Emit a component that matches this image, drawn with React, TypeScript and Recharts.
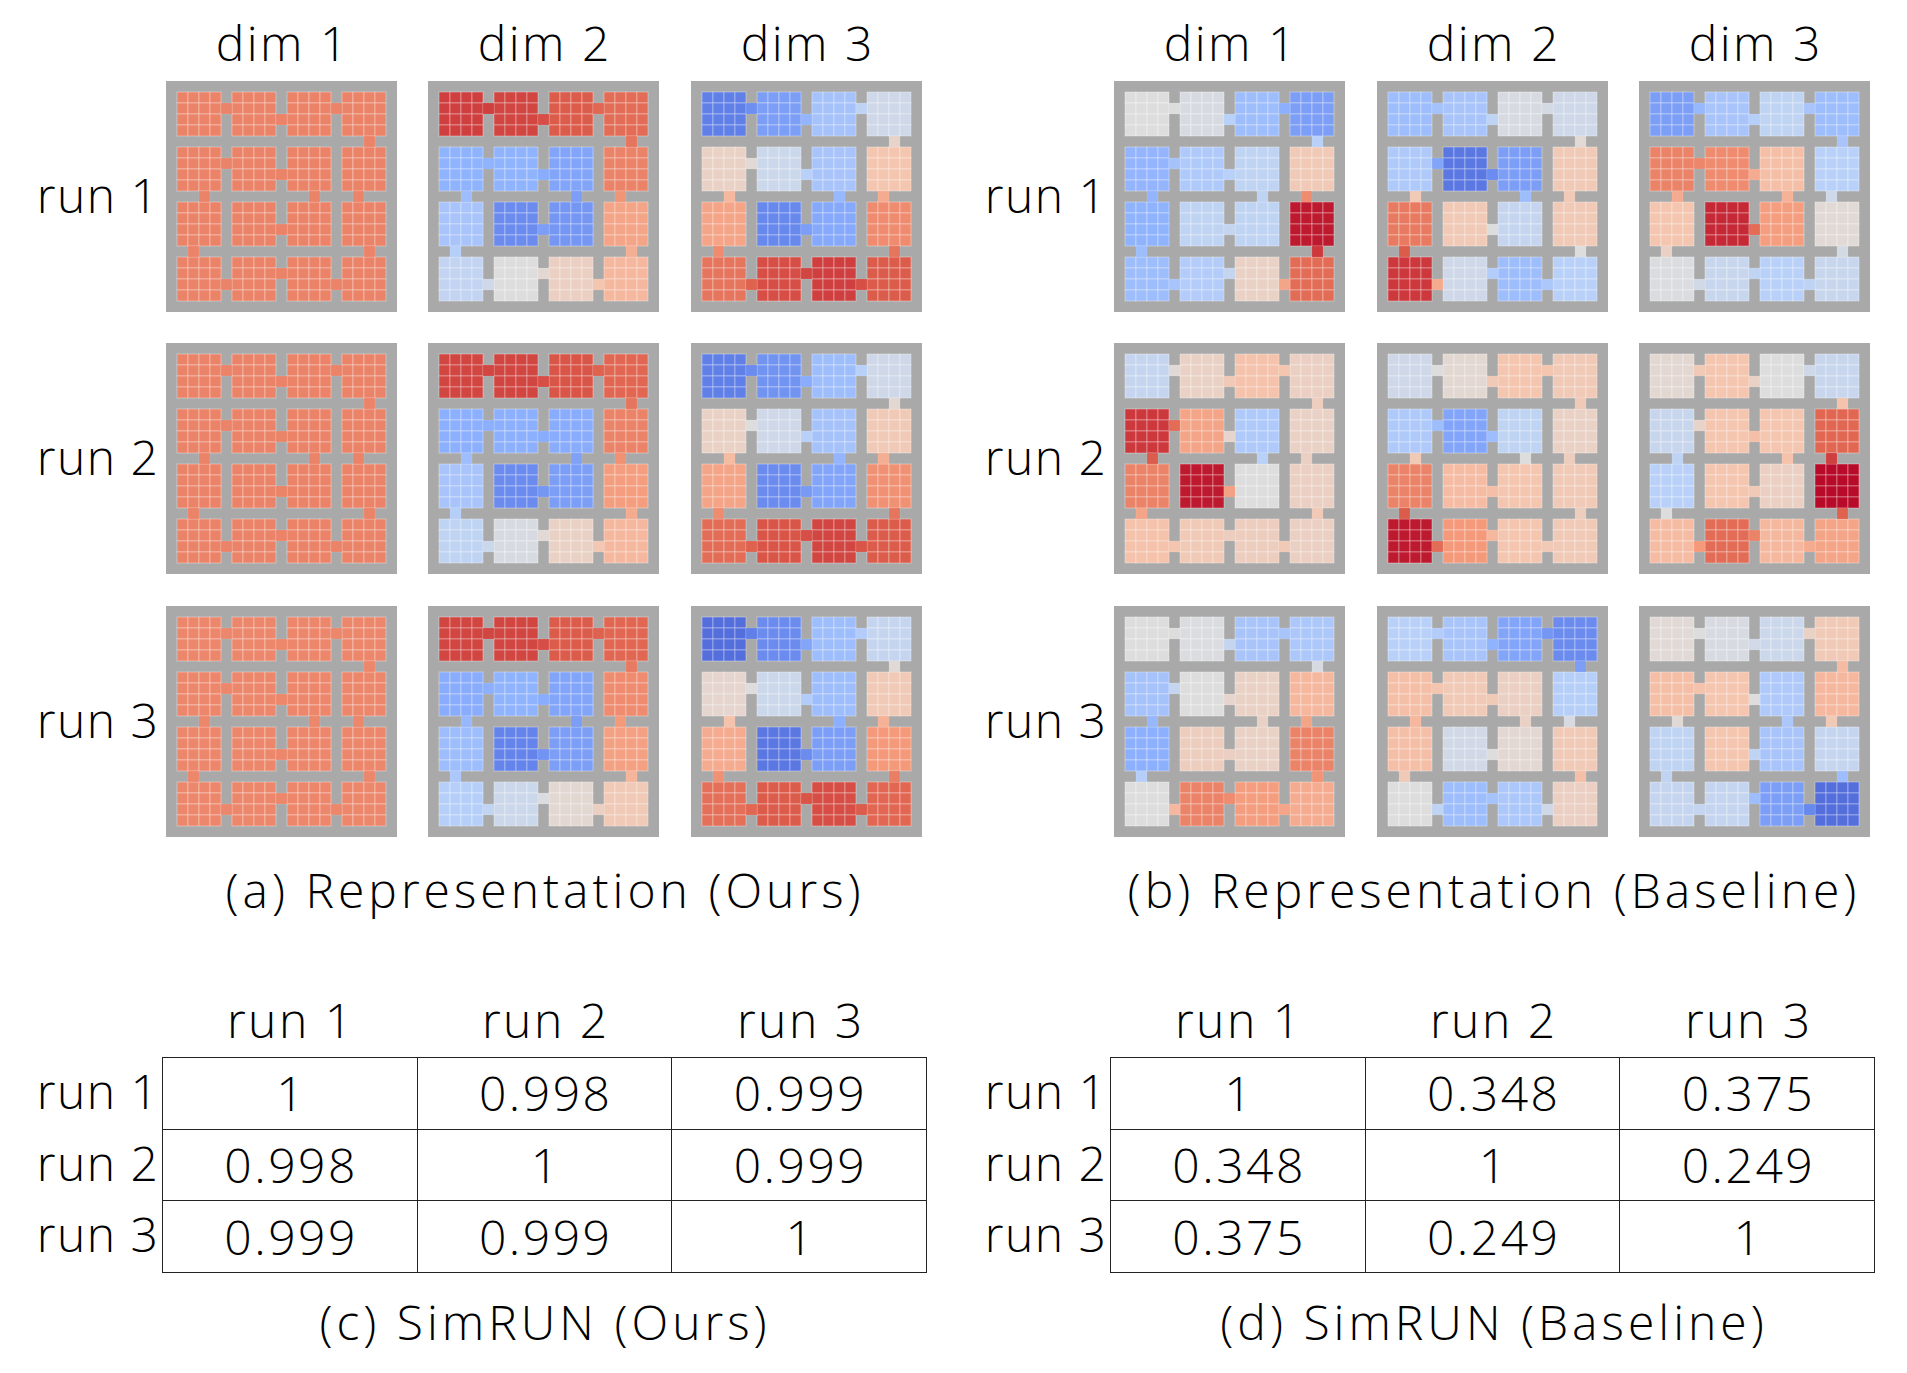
import React from 'react';
import { ScatterChart, Scatter, XAxis, YAxis } from 'recharts';

// 21x21 grid: 4x4 rooms of 4x4 cells, 1-cell walls, doors in the walls
const GRID = 21;
const PANEL = 231;
const CELL = PANEL / GRID;
const FONT = '"Open Sans", Lato, sans-serif';

const dims = ['dim 1', 'dim 2', 'dim 3'];
const runs = ['run 1', 'run 2', 'run 3'];

// doors: [roomRow, roomCol, offset inside the room side]
const hDoors = [[0, 0, 1], [0, 1, 2], [0, 2, 1], [1, 0, 1], [1, 1, 2], [2, 1, 2], [3, 0, 2], [3, 1, 1], [3, 2, 2]];
const vDoors = [[0, 3, 2], [1, 0, 2], [1, 2, 2], [1, 3, 1], [2, 0, 1], [2, 3, 2]];

// room values (row-major, 4x4), coolwarm position 0..1
const oursR1D1 = [0.8, 0.8, 0.8, 0.8, 0.8, 0.8, 0.8, 0.8, 0.8, 0.8, 0.8, 0.8, 0.8, 0.8, 0.8, 0.8];
const oursR1D1Doors = [0.8, 0.8, 0.8, 0.8, 0.8, 0.8, 0.8, 0.8, 0.8, 0.8, 0.8, 0.8, 0.8, 0.8, 0.8];
const oursR1D2 = [0.92, 0.91, 0.88, 0.85, 0.26, 0.26, 0.22, 0.8, 0.33, 0.15, 0.18, 0.72, 0.41, 0.5, 0.57, 0.66];
const oursR1D2Doors = [0.92, 0.9, 0.86, 0.26, 0.24, 0.2, 0.45, 0.53, 0.62, 0.83, 0.3, 0.2, 0.76, 0.37, 0.69];
const oursR1D3 = [0.12, 0.2, 0.32, 0.45, 0.56, 0.44, 0.33, 0.62, 0.72, 0.14, 0.23, 0.78, 0.83, 0.9, 0.92, 0.88];
const oursR1D3Doors = [0.16, 0.27, 0.4, 0.52, 0.38, 0.2, 0.87, 0.91, 0.9, 0.55, 0.66, 0.28, 0.7, 0.78, 0.83];

const oursR2D1 = [0.8, 0.8, 0.8, 0.8, 0.8, 0.8, 0.8, 0.8, 0.8, 0.8, 0.8, 0.8, 0.8, 0.8, 0.8, 0.8];
const oursR2D1Doors = [0.8, 0.8, 0.8, 0.8, 0.8, 0.8, 0.8, 0.8, 0.8, 0.8, 0.8, 0.8, 0.8, 0.8, 0.8];
const oursR2D2 = [0.91, 0.91, 0.89, 0.86, 0.25, 0.25, 0.24, 0.8, 0.33, 0.15, 0.2, 0.74, 0.4, 0.48, 0.56, 0.66];
const oursR2D2Doors = [0.91, 0.9, 0.87, 0.25, 0.24, 0.18, 0.44, 0.52, 0.61, 0.83, 0.3, 0.21, 0.77, 0.37, 0.7];
const oursR2D3 = [0.12, 0.17, 0.3, 0.45, 0.56, 0.45, 0.32, 0.6, 0.72, 0.15, 0.22, 0.77, 0.85, 0.89, 0.91, 0.88];
const oursR2D3Doors = [0.15, 0.24, 0.38, 0.5, 0.38, 0.19, 0.87, 0.9, 0.89, 0.53, 0.65, 0.27, 0.69, 0.78, 0.83];

const oursR3D1 = [0.79, 0.79, 0.79, 0.79, 0.79, 0.79, 0.79, 0.79, 0.79, 0.79, 0.79, 0.79, 0.79, 0.79, 0.79, 0.79];
const oursR3D1Doors = [0.79, 0.79, 0.79, 0.79, 0.79, 0.79, 0.79, 0.79, 0.79, 0.79, 0.79, 0.79, 0.79, 0.79, 0.79];
const oursR3D2 = [0.91, 0.91, 0.88, 0.86, 0.24, 0.26, 0.22, 0.78, 0.3, 0.13, 0.2, 0.73, 0.37, 0.44, 0.53, 0.6];
const oursR3D2Doors = [0.91, 0.9, 0.87, 0.25, 0.24, 0.17, 0.41, 0.49, 0.57, 0.82, 0.28, 0.2, 0.75, 0.34, 0.67];
const oursR3D3 = [0.08, 0.15, 0.3, 0.42, 0.54, 0.44, 0.3, 0.6, 0.7, 0.1, 0.2, 0.75, 0.84, 0.88, 0.9, 0.86];
const oursR3D3Doors = [0.12, 0.22, 0.36, 0.5, 0.36, 0.15, 0.86, 0.89, 0.88, 0.52, 0.63, 0.25, 0.68, 0.77, 0.81];

const baseR1D1 = [0.5, 0.48, 0.3, 0.2, 0.27, 0.35, 0.4, 0.6, 0.26, 0.4, 0.4, 0.97, 0.3, 0.36, 0.56, 0.85];
const baseR1D1Doors = [0.5, 0.38, 0.25, 0.32, 0.38, 0.42, 0.33, 0.42, 0.72, 0.38, 0.27, 0.4, 0.78, 0.3, 0.93];
const baseR1D2 = [0.3, 0.33, 0.48, 0.45, 0.35, 0.1, 0.2, 0.6, 0.82, 0.6, 0.42, 0.6, 0.93, 0.45, 0.3, 0.38];
const baseR1D2Doors = [0.32, 0.4, 0.47, 0.22, 0.15, 0.5, 0.7, 0.36, 0.34, 0.52, 0.6, 0.3, 0.6, 0.88, 0.5];
const baseR1D3 = [0.2, 0.33, 0.4, 0.3, 0.8, 0.78, 0.64, 0.38, 0.62, 0.95, 0.74, 0.52, 0.49, 0.43, 0.38, 0.43];
const baseR1D3Doors = [0.28, 0.37, 0.33, 0.79, 0.7, 0.85, 0.46, 0.4, 0.4, 0.33, 0.7, 0.68, 0.45, 0.56, 0.47];

const baseR2D1 = [0.42, 0.56, 0.63, 0.57, 0.93, 0.72, 0.35, 0.56, 0.8, 0.97, 0.5, 0.57, 0.63, 0.6, 0.58, 0.57];
const baseR2D1Doors = [0.52, 0.6, 0.62, 0.85, 0.54, 0.73, 0.62, 0.58, 0.6, 0.58, 0.88, 0.38, 0.57, 0.72, 0.6];
const baseR2D2 = [0.45, 0.53, 0.62, 0.6, 0.35, 0.22, 0.4, 0.56, 0.8, 0.65, 0.62, 0.6, 0.97, 0.75, 0.62, 0.6];
const baseR2D2Doors = [0.5, 0.6, 0.62, 0.3, 0.3, 0.64, 0.85, 0.66, 0.6, 0.6, 0.6, 0.5, 0.58, 0.88, 0.58];
const baseR2D3 = [0.53, 0.62, 0.5, 0.43, 0.43, 0.62, 0.62, 0.86, 0.38, 0.62, 0.57, 0.99, 0.65, 0.85, 0.66, 0.72];
const baseR2D3Doors = [0.6, 0.56, 0.45, 0.55, 0.64, 0.6, 0.75, 0.8, 0.7, 0.63, 0.4, 0.63, 0.92, 0.5, 0.87];

const baseR3D1 = [0.5, 0.49, 0.33, 0.34, 0.32, 0.5, 0.56, 0.66, 0.25, 0.58, 0.56, 0.8, 0.5, 0.8, 0.74, 0.7];
const baseR3D1Doors = [0.5, 0.42, 0.33, 0.42, 0.54, 0.57, 0.66, 0.78, 0.72, 0.48, 0.28, 0.56, 0.72, 0.37, 0.76];
const baseR3D2 = [0.38, 0.33, 0.22, 0.15, 0.64, 0.6, 0.57, 0.37, 0.64, 0.46, 0.53, 0.6, 0.5, 0.3, 0.34, 0.57];
const baseR3D2Doors = [0.36, 0.26, 0.18, 0.62, 0.6, 0.5, 0.4, 0.32, 0.45, 0.2, 0.66, 0.56, 0.48, 0.6, 0.64];
const baseR3D3 = [0.52, 0.48, 0.44, 0.6, 0.64, 0.62, 0.35, 0.66, 0.4, 0.62, 0.33, 0.42, 0.42, 0.42, 0.2, 0.08];
const baseR3D3Doors = [0.5, 0.46, 0.56, 0.63, 0.5, 0.4, 0.42, 0.3, 0.14, 0.65, 0.52, 0.34, 0.6, 0.4, 0.3];

const oursRooms = [[oursR1D1, oursR1D2, oursR1D3], [oursR2D1, oursR2D2, oursR2D3], [oursR3D1, oursR3D2, oursR3D3]];
const oursDoors = [[oursR1D1Doors, oursR1D2Doors, oursR1D3Doors], [oursR2D1Doors, oursR2D2Doors, oursR2D3Doors], [oursR3D1Doors, oursR3D2Doors, oursR3D3Doors]];
const baseRooms = [[baseR1D1, baseR1D2, baseR1D3], [baseR2D1, baseR2D2, baseR2D3], [baseR3D1, baseR3D2, baseR3D3]];
const baseDoors = [[baseR1D1Doors, baseR1D2Doors, baseR1D3Doors], [baseR2D1Doors, baseR2D2Doors, baseR2D3Doors], [baseR3D1Doors, baseR3D2Doors, baseR3D3Doors]];

// SimRUN tables
const simOurs = [['1', '0.998', '0.999'], ['0.998', '1', '0.999'], ['0.999', '0.999', '1']];
const simBase = [['1', '0.348', '0.375'], ['0.348', '1', '0.249'], ['0.375', '0.249', '1']];

// matplotlib coolwarm anchors
const COOLWARM = [
  [59, 76, 192], [98, 130, 234], [141, 176, 254], [184, 208, 249], [221, 221, 221],
  [245, 196, 173], [244, 154, 123], [222, 96, 77], [180, 4, 38],
];

const coolwarm = (v: number) => {
  const t = Math.max(0, Math.min(1, v)) * (COOLWARM.length - 1);
  const i = Math.min(Math.floor(t), COOLWARM.length - 2);
  const f = t - i;
  const a = COOLWARM[i], b = COOLWARM[i + 1];
  const c = a.map((x, k) => Math.round(x + (b[k] - x) * f));
  return `rgb(${c[0]},${c[1]},${c[2]})`;
};

const buildCells = (rooms: number[], doors: number[]) => {
  const cells: { x: number; y: number; v: number; door: boolean }[] = [];
  rooms.forEach((v, idx) => {
    const r = Math.floor(idx / 4), c = idx % 4;
    for (let i = 0; i < 4; i++)
      for (let j = 0; j < 4; j++)
        cells.push({ x: 1 + 5 * c + j + 0.5, y: 1 + 5 * r + i + 0.5, v, door: false });
  });
  hDoors.forEach(([r, c, o], k) => {
    cells.push({ x: 5 * c + 5 + 0.5, y: 1 + 5 * r + o + 0.5, v: doors[k], door: true });
  });
  vDoors.forEach(([r, c, o], k) => {
    cells.push({ x: 1 + 5 * c + o + 0.5, y: 5 * r + 5 + 0.5, v: doors[hDoors.length + k], door: true });
  });
  return cells;
};

const CellShape = (props: any) => {
  const { cx, cy, payload } = props;
  return (
    <rect
      x={cx - CELL / 2}
      y={cy - CELL / 2}
      width={CELL}
      height={CELL}
      fill={coolwarm(payload.v)}
      stroke="#ffffff"
      strokeOpacity={payload.door ? 0.1 : 0.35}
      strokeWidth={1}
    />
  );
};

const Panel = ({ rooms, doors, left, top }: any) => (
  <div style={{ position: 'absolute', left, top, width: PANEL, height: PANEL, background: '#a9a9a9' }}>
    <ScatterChart width={PANEL} height={PANEL} margin={{ top: 0, right: 0, bottom: 0, left: 0 }}>
      <XAxis type="number" dataKey="x" domain={[0, GRID]} hide />
      <YAxis type="number" dataKey="y" domain={[0, GRID]} reversed hide />
      <Scatter data={buildCells(rooms, doors)} shape={CellShape} isAnimationActive={false} />
    </ScatterChart>
  </div>
);

const Label = ({ x, y, text, align = 'center', size = 48, spacing = 2.5 }: any) => {
  const tx = align === 'center' ? '-50%' : align === 'right' ? '-100%' : '0';
  const shift = align === 'right' ? spacing : align === 'center' ? spacing / 2 : 0;
  return (
    <div
      style={{
        position: 'absolute', left: x + shift, top: y, transform: `translate(${tx}, -50%)`,
        fontFamily: FONT, fontWeight: 300, fontSize: size, lineHeight: 1, whiteSpace: 'nowrap', color: '#000',
        letterSpacing: spacing,
      }}
    >
      {text}
    </div>
  );
};

const panelX = [[166, 428, 691], [1114, 1377, 1639]];
const panelY = [81, 343, 606];

const SimTable = ({ left, values }: any) => {
  const colW = 255, rowH = 71.7, top = 1057;
  return (
    <>
      {runs.map((r, j) => (
        <Label key={'h' + j} x={left + colW * j + colW / 2} y={1020} text={r} />
      ))}
      {runs.map((r, i) => (
        <Label key={'r' + i} x={left - 4} y={top + rowH * i + rowH / 2 - 2} text={r} align="right" spacing={1.5} />
      ))}
      <table
        style={{
          position: 'absolute', left, top, borderCollapse: 'collapse', width: colW * 3, height: rowH * 3,
          fontFamily: FONT, fontWeight: 300, fontSize: 48, letterSpacing: 2.5,
        }}
      >
        <tbody>
          {values.map((row: string[], i: number) => (
            <tr key={i} style={{ height: rowH }}>
              {row.map((v, j) => (
                <td key={j} style={{ border: '1.5px solid #222', width: colW, textAlign: 'center', padding: 0, paddingLeft: 2.5, lineHeight: 1 }}>
                  {v}
                </td>
              ))}
            </tr>
          ))}
        </tbody>
      </table>
    </>
  );
};

export default function App() {
  return (
    <div style={{ position: 'absolute', left: 0, top: 0, width: 1907, height: 1373, background: '#fff', overflow: 'hidden' }}>
      {[0, 1].map((g) => (
        <React.Fragment key={g}>
          {dims.map((d, j) => (
            <Label key={'d' + j} x={panelX[g][j] + PANEL / 2} y={43} text={d} />
          ))}
          {runs.map((r, i) => (
            <Label key={'l' + i} x={panelX[g][0] - 8} y={panelY[i] + PANEL / 2 - 2} text={r} align="right" spacing={1.5} />
          ))}
          {runs.map((_, i) =>
            dims.map((__, j) => (
              <Panel
                key={`p${i}${j}`}
                rooms={(g === 0 ? oursRooms : baseRooms)[i][j]}
                doors={(g === 0 ? oursDoors : baseDoors)[i][j]}
                left={panelX[g][j]}
                top={panelY[i]}
              />
            ))
          )}
        </React.Fragment>
      ))}
      <Label x={543} y={890} text="(a) Representation (Ours)" spacing={4} />
      <Label x={1492} y={890} text="(b) Representation (Baseline)" spacing={4} />
      <SimTable left={162} values={simOurs} />
      <SimTable left={1110} values={simBase} />
      <Label x={543} y={1322} text="(c) SimRUN (Ours)" spacing={4} />
      <Label x={1492} y={1322} text="(d) SimRUN (Baseline)" spacing={4} />
    </div>
  );
}
